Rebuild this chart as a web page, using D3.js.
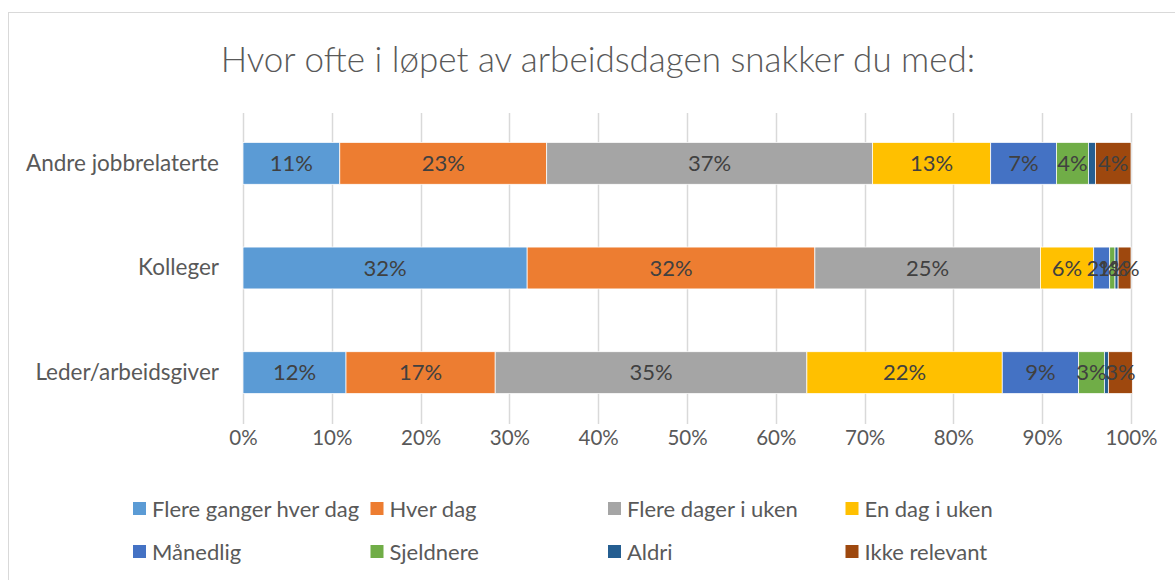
<!DOCTYPE html>
<html><head><meta charset="utf-8">
<script src="https://cdn.jsdelivr.net/npm/d3@7"></script>
<style>
html,body{margin:0;padding:0;background:#fff;}
svg{display:block;font-family:Lato,"Open Sans",sans-serif;}
</style></head>
<body><svg id="c" width="1175" height="580"></svg>
<script>
const title = "Hvor ofte i løpet av arbeidsdagen snakker du med:";
const categories = ["Andre jobbrelaterte", "Kolleger", "Leder/arbeidsgiver"];
const seriesNames = ["Flere ganger hver dag","Hver dag","Flere dager i uken","En dag i uken","Månedlig","Sjeldnere","Aldri","Ikke relevant"];
const colors = ["#5B9BD5","#ED7D31","#A5A5A5","#FFC000","#4472C4","#70AD47","#255E91","#9E480E"];
// values per series, in category order
const flereGanger  = [10.9, 32.0, 11.6];
const hverDag      = [23.3, 32.4, 16.8];
const flereDager   = [36.7, 25.4, 35.1];
const enDag        = [13.3, 6.0, 22.0];
const maanedlig    = [7.4, 1.8, 8.6];
const sjeldnere    = [3.6, 0.6, 2.9];
const aldri        = [0.8, 0.35, 0.45];
const ikkeRelevant = [4.0, 1.45, 2.7];
const seriesValues = [flereGanger, hverDag, flereDager, enDag, maanedlig, sjeldnere, aldri, ikkeRelevant];
const labelled = [true,true,true,true,true,true,false,true];
const ticks = [0,10,20,30,40,50,60,70,80,90,100];

const svg = d3.select("#c");
svg.append("rect").attr("x",8.5).attr("y",12.5).attr("width",1200).attr("height",600)
  .attr("fill","#fff").attr("stroke","#d9d9d9").attr("stroke-width",1);

svg.append("text").attr("x",598).attr("y",72).attr("text-anchor","middle")
  .attr("font-size",35).attr("font-weight",300).attr("fill","#595959").text(title);

const x = d3.scaleLinear().domain([0,100]).range([243,1131]);
const y = d3.scaleBand().domain(categories).range([111,425]).paddingInner(0.6).paddingOuter(0.3);

// gridlines
svg.append("g").selectAll("line").data(ticks).join("line")
  .attr("x1",d=>Math.round(x(d))+0.5).attr("x2",d=>Math.round(x(d))+0.5)
  .attr("y1",113).attr("y2",424).attr("stroke","#d9d9d9").attr("stroke-width",1.5);

// x axis labels
const xAxis = d3.axisBottom(x).tickValues(ticks).tickFormat(d=>d+"%").tickSize(0).tickPadding(0);
const gx = svg.append("g").attr("transform","translate(0,430)").call(xAxis);
gx.select(".domain").remove();
gx.selectAll("text").attr("font-size",20.5).attr("fill","#595959").attr("font-family","Lato,sans-serif").attr("dy","0.71em");

// y axis labels
const yAxis = d3.axisLeft(y).tickSize(0).tickPadding(0);
const gy = svg.append("g").attr("transform","translate(219,0)").call(yAxis);
gy.select(".domain").remove();
gy.selectAll("text").attr("font-size",22.5).attr("fill","#595959").attr("font-family","Lato,sans-serif");

// stacked data
const rows = categories.map((c,i)=>{ const o={cat:c}; seriesNames.forEach((s,j)=>o[s]=seriesValues[j][i]); return o; });
const stack = d3.stack().keys(seriesNames)(rows);

const gBars = svg.append("g");
stack.forEach((layer,j)=>{
  const g = gBars.append("g");
  g.selectAll("rect").data(layer).join("rect")
    .attr("x",d=>x(d[0])).attr("width",d=>x(d[1])-x(d[0]))
    .attr("y",d=>y(d.data.cat)).attr("height",y.bandwidth())
    .attr("fill",colors[j]).attr("stroke","#fff").attr("stroke-width",0.75);
});
stack.forEach((layer,j)=>{
  if(!labelled[j]) return;
  svg.append("g").selectAll("text").data(layer).join("text")
    .attr("x",d=>(x(d[0])+x(d[1]))/2).attr("y",d=>y(d.data.cat)+y.bandwidth()/2)
    .attr("dy","0.35em").attr("text-anchor","middle")
    .attr("font-size",22).attr("fill","#404040")
    .text(d=>Math.round(d[1]-d[0])+"%");
});

// legend
const legendPos = seriesNames.map((s,i)=>({name:s,color:colors[i],col:i%4,row:Math.floor(i/4)}));
const lg = svg.append("g").selectAll("g").data(legendPos).join("g")
  .attr("transform",d=>`translate(${133+d.col*237.5},${509+d.row*43})`);
lg.append("rect").attr("x",0).attr("y",-7).attr("width",13).attr("height",13).attr("fill",d=>d.color);
lg.append("text").attr("x",19).attr("y",0).attr("dy","0.35em").attr("font-size",22).attr("fill","#595959").text(d=>d.name);
</script></body></html>
